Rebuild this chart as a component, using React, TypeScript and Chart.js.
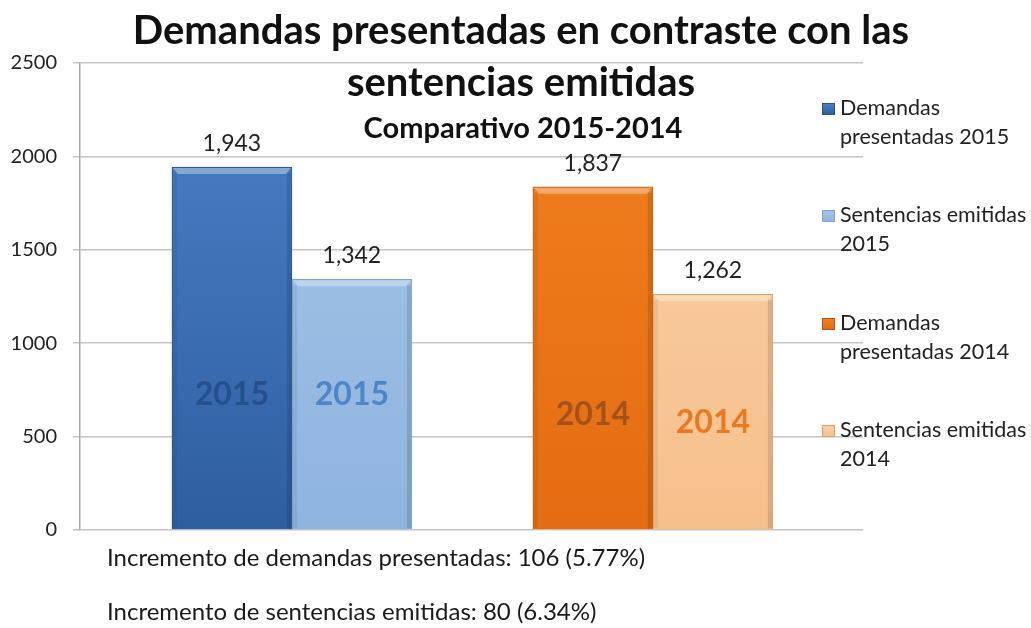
import React, { useEffect, useRef } from "react";
import { Chart, registerables } from "chart.js";

Chart.register(...registerables);

// ---- data ----
const GROUP_POS = [0, 1]; // 2015 group, 2014 group
const SERIES_LABELS = [
  "Demandas presentadas 2015",
  "Sentencias emitidas 2015",
  "Demandas presentadas 2014",
  "Sentencias emitidas 2014",
];
const LEGEND_LINES = [
  ["Demandas", "presentadas 2015"],
  ["Sentencias emitidas", "2015"],
  ["Demandas", "presentadas 2014"],
  ["Sentencias emitidas", "2014"],
];
const DEMANDAS_2015 = [1943, null];
const SENTENCIAS_2015 = [1342, null];
const DEMANDAS_2014 = [null, 1837];
const SENTENCIAS_2014 = [null, 1262];
const BAR_TAGS = ["2015", "2015", "2014", "2014"];
const TAG_LEVELS = [725, 725, 617, 575];
const Y_MIN = 0;
const Y_MAX = 2500;
const Y_STEP = 500;
const TITLE_LINES = ["Demandas presentadas en contraste con las", "sentencias emitidas"];
const SUBTITLE = "Comparativo 2015-2014";
const NOTES = [
  "Incremento de demandas presentadas: 106 (5.77%)",
  "Incremento de sentencias emitidas: 80 (6.34%)",
];

// ---- styles ----
const FONT = "Lato, 'Open Sans', sans-serif";
const BAR_TOP = ["#4A82CA", "#A6C6EA", "#F2811F", "#FAD0A6"];
const BAR_BOTTOM = ["#2F5E9F", "#8FB4DE", "#E46C12", "#F6C08C"];
const BAR_BORDER = ["#2A5288", "#7DA2CC", "#B85A12", "#D8A070"];
const TAG_COLORS = ["#25508C", "#4E86C8", "#A4521C", "#EA7A20"];

const seriesData = [DEMANDAS_2015, SENTENCIAS_2015, DEMANDAS_2014, SENTENCIAS_2014];

const decorPlugin = {
  id: "decor",
  afterDatasetsDraw(chart: any) {
    const ctx = chart.ctx as CanvasRenderingContext2D;
    const yScale = chart.scales.y;
    chart.data.datasets.forEach((ds: any, di: number) => {
      const meta = chart.getDatasetMeta(di);
      meta.data.forEach((bar: any, i: number) => {
        const v = ds.data[i];
        if (v === null || v === undefined) return;
        const left = bar.x - bar.width / 2;
        const right = bar.x + bar.width / 2;
        const top = bar.y;
        const bottom = bar.base;
        // bevel
        ctx.save();
        ctx.fillStyle = "rgba(255,255,255,0.35)";
        ctx.beginPath();
        ctx.moveTo(left + 1, top + 1);
        ctx.lineTo(right - 1, top + 1);
        ctx.lineTo(right - 6, top + 7);
        ctx.lineTo(left + 6, top + 7);
        ctx.closePath();
        ctx.fill();
        ctx.fillStyle = "rgba(0,0,0,0.12)";
        ctx.fillRect(right - 5, top + 6, 4, bottom - top - 7);
        ctx.fillStyle = "rgba(0,0,0,0.06)";
        ctx.fillRect(left + 1, top + 6, 4, bottom - top - 7);
        ctx.restore();
        // value label
        ctx.save();
        ctx.font = `23px ${FONT}`;
        ctx.fillStyle = "#222";
        ctx.textAlign = "center";
        ctx.textBaseline = "alphabetic";
        ctx.fillText(Number(v).toLocaleString("en-US"), bar.x, top - 16);
        // tag inside bar
        ctx.font = `bold 32px ${FONT}`;
        ctx.fillStyle = TAG_COLORS[di];
        ctx.textBaseline = "middle";
        ctx.fillText(BAR_TAGS[di], bar.x, yScale.getPixelForValue(TAG_LEVELS[di]));
        ctx.restore();
      });
    });
  },
  afterDraw(chart: any) {
    const ctx = chart.ctx as CanvasRenderingContext2D;
    ctx.save();
    ctx.fillStyle = "#111";
    ctx.textAlign = "center";
    ctx.textBaseline = "alphabetic";
    ctx.font = `bold 40px ${FONT}`;
    ctx.fillText(TITLE_LINES[0], 521, 44);
    ctx.fillText(TITLE_LINES[1], 521, 96);
    ctx.font = `bold 29px ${FONT}`;
    ctx.fillText(SUBTITLE, 523, 138);

    // legend
    ctx.textAlign = "left";
    ctx.font = `21.5px ${FONT}`;
    const base = [115, 222, 330, 437];
    LEGEND_LINES.forEach((lines, i) => {
      const y = base[i];
      const g = ctx.createLinearGradient(0, y - 12, 0, y);
      g.addColorStop(0, BAR_TOP[i]);
      g.addColorStop(1, BAR_BOTTOM[i]);
      ctx.fillStyle = g;
      ctx.fillRect(822, y - 12, 13, 12);
      ctx.strokeStyle = BAR_BORDER[i];
      ctx.lineWidth = 1;
      ctx.strokeRect(822.5, y - 11.5, 12, 11);
      ctx.fillStyle = "#222";
      ctx.fillText(lines[0], 840, y);
      ctx.fillText(lines[1], 840, y + 29);
    });

    // notes
    ctx.font = `24px ${FONT}`;
    ctx.fillStyle = "#1a1a1a";
    ctx.fillText(NOTES[0], 107, 566);
    ctx.fillText(NOTES[1], 107, 620);
    ctx.restore();
  },
};

export default function App() {
  const ref = useRef<HTMLCanvasElement | null>(null);
  useEffect(() => {
    document.body.style.margin = "0";
    let chart: Chart | null = null;
    let cancelled = false;
    const build = () => {
      if (cancelled || !ref.current) return;
      Chart.defaults.font.family = FONT;
      chart = new Chart(ref.current, {
        type: "bar",
        data: {
          labels: GROUP_POS as any,
          datasets: seriesData.map((d, i) => ({
            label: SERIES_LABELS[i],
            data: d as any,
            skipNull: true,
            barThickness: 120,
            borderWidth: 1,
            borderColor: BAR_BORDER[i],
            backgroundColor: (c: any) => {
              const area = c.chart.chartArea;
              if (!area) return BAR_TOP[i];
              const g = c.chart.ctx.createLinearGradient(0, area.top, 0, area.bottom);
              g.addColorStop(0, BAR_TOP[i]);
              g.addColorStop(1, BAR_BOTTOM[i]);
              return g;
            },
          })),
        },
        options: {
          responsive: false,
          animation: false,
          layout: { padding: { left: 0, top: 63, right: 168, bottom: 98 } },
          plugins: { legend: { display: false }, title: { display: false }, tooltip: { enabled: false } },
          scales: {
            x: {
              type: "linear",
              min: -0.587,
              max: 1.582,
              offset: false,
              display: false,
            },
            y: {
              min: Y_MIN,
              max: Y_MAX,
              ticks: {
                stepSize: Y_STEP,
                padding: 16,
                color: "#222",
                font: { size: 20, family: FONT },
                callback: (v: any) => String(v),
              },
              grid: { color: "#C4C4C4", tickLength: 7, lineWidth: 1.5 },
              border: { display: true, color: "#A8A8A8", width: 1.5 },
              afterFit: (s: any) => {
                s.width = 80;
              },
            },
          },
        },
        plugins: [decorPlugin],
      });
    };
    const fontsReady = (document as any).fonts
      ? Promise.all([
          (document as any).fonts.load(`20px Lato`),
          (document as any).fonts.load(`bold 20px Lato`),
        ]).catch(() => null)
      : Promise.resolve();
    fontsReady.then(build);
    return () => {
      cancelled = true;
      if (chart) chart.destroy();
    };
  }, []);
  return (
    <div style={{ width: 1031, height: 628, background: "#fff" }}>
      <canvas ref={ref} width={1031} height={628} style={{ display: "block" }} />
    </div>
  );
}
